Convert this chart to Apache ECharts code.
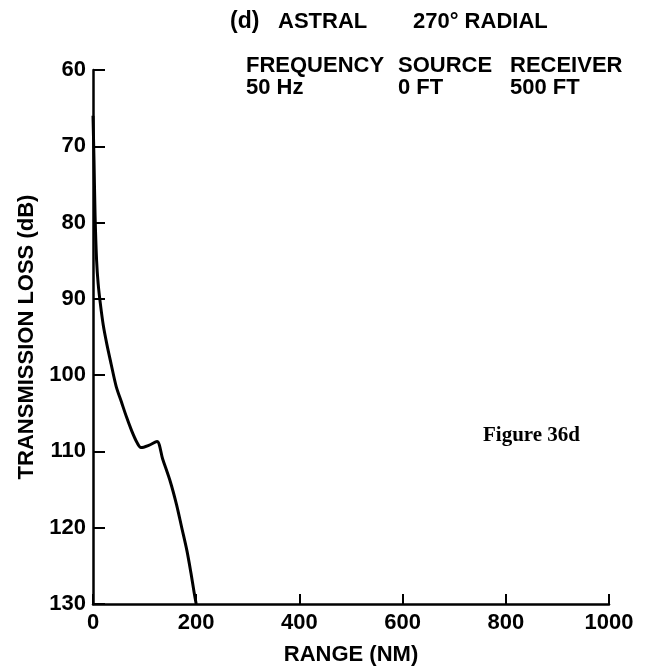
<!DOCTYPE html>
<html><head><meta charset="utf-8">
<script src="https://cdn.jsdelivr.net/npm/echarts@6/dist/echarts.min.js"></script>
<style>html,body{margin:0;padding:0;background:#fff}#c{width:650px;height:671px}</style>
</head><body><div id="c"></div>
<script>
const rangeNM = [0, 2, 4, 7, 10, 14, 20, 27, 35, 45, 55, 65, 75, 85, 93, 108, 124, 135, 150, 162, 172, 182, 190, 196, 200];
const lossDB  = [66, 72, 79, 85, 88, 90.5, 93.5, 96, 98.5, 101.5, 103.5, 105.5, 107.3, 108.8, 109.5, 109.2, 108.7, 111, 114, 117, 120, 123, 126, 128.5, 130];
const xTicks = [0, 200, 400, 600, 800, 1000];
const yTicks = [60, 70, 80, 90, 100, 110, 120, 130];

const F = 'Liberation Sans, Arial, sans-serif';
const chart = echarts.init(document.getElementById('c'));
const txt = (x, y, s) => ({type:'text', left:x, top:y, style:{text:s, font:'bold 22px ' + F, fill:'#000'}});
chart.setOption({
  animation:false,
  grid:{left:93, right:41, top:70, bottom:64},
  xAxis:{type:'value', min:0, max:1000, interval:200,
    axisLine:{lineStyle:{color:'#000', width:2.5}},
    axisTick:{inside:true, length:10, lineStyle:{color:'#000', width:2}},
    splitLine:{show:false},
    axisLabel:{color:'#000', fontFamily:F, fontWeight:'bold', fontSize:22, margin:8,
      formatter: v => xTicks.includes(v) ? String(v) : ''},
    name:'RANGE (NM)', nameLocation:'middle', nameGap:40,
    nameTextStyle:{color:'#000', fontFamily:F, fontWeight:'bold', fontSize:22}},
  yAxis:{type:'value', inverse:true, min:60, max:130, interval:10,
    axisLine:{lineStyle:{color:'#000', width:2.5}},
    axisTick:{inside:true, length:12, lineStyle:{color:'#000', width:2}},
    splitLine:{show:false},
    axisLabel:{color:'#000', fontFamily:F, fontWeight:'bold', fontSize:22, margin:7,
      formatter: v => yTicks.includes(v) ? String(v) : ''},
    name:'TRANSMISSION LOSS (dB)', nameLocation:'middle', nameGap:54, nameRotate:90,
    nameTextStyle:{color:'#000', fontFamily:F, fontWeight:'bold', fontSize:22}},
  series:[{type:'line', data: rangeNM.map((x,i)=>[x, lossDB[i]]), smooth:0.3, showSymbol:false,
    lineStyle:{color:'#000', width:3}}],
  graphic:[
    {type:'text', left:230, top:10, style:{text:'(d)', font:'900 23px ' + F, fill:'#000'}},
    txt(278, 11, 'ASTRAL'),
    txt(413, 11, '270° RADIAL'),
    txt(246, 55, 'FREQUENCY'),
    txt(398, 55, 'SOURCE'),
    txt(510, 55, 'RECEIVER'),
    txt(246, 77, '50 Hz'),
    txt(398, 77, '0 FT'),
    txt(510, 77, '500 FT'),
    {type:'text', left:483, top:425, style:{text:'Figure 36d', font:'bold 21px "Liberation Serif", "DejaVu Serif", serif', fill:'#000'}}
  ]
});
</script></body></html>
